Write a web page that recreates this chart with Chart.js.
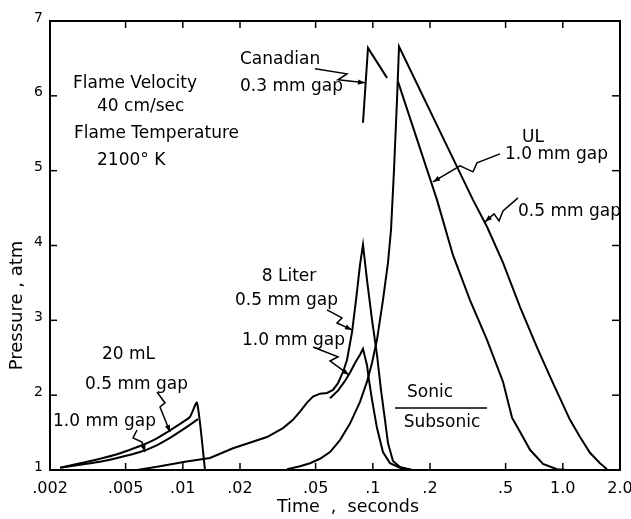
<!DOCTYPE html>
<html>
<head>
<meta charset="utf-8">
<script src="https://cdn.jsdelivr.net/npm/chart.js@4/dist/chart.umd.min.js"></script>
<style>
html,body{margin:0;padding:0;background:#fff;}
#wrap{width:631px;height:519px;}
</style>
</head>
<body>
<div id="wrap"><canvas id="c" width="631" height="519"></canvas></div>
<script>
// ---- tick labels ----
const xTickValues = [0.002, 0.005, 0.01, 0.02, 0.05, 0.1, 0.2, 0.5, 1.0, 2.0];
const xTickLabels = ['.002', '.005', '.01', '.02', '.05', '.1', '.2', '.5', '1.0', '2.0'];
const yTickValues = [1, 2, 3, 4, 5, 6, 7];

// ---- series (time in seconds, pressure in atm) ----
const ml20Gap05Time = [0.00226, 0.00288, 0.00367, 0.00451, 0.00595, 0.00714, 0.00856, 0.01027, 0.01091, 0.01188, 0.01309];
const ml20Gap05Pressure = [1.03, 1.09, 1.15, 1.21, 1.32, 1.41, 1.53, 1.66, 1.71, 1.90, 1.00];

const ml20Gap10Time = [0.00226, 0.00288, 0.00367, 0.00451, 0.00595, 0.00714, 0.00856, 0.01027, 0.01202];
const ml20Gap10Pressure = [1.03, 1.07, 1.11, 1.16, 1.24, 1.32, 1.43, 1.56, 1.68];

const liter8Gap05Time = [0.00574, 0.00759, 0.01027, 0.0139, 0.01838, 0.02774, 0.03368, 0.03801, 0.04139, 0.04505, 0.04845, 0.05273, 0.05741, 0.06173, 0.06558, 0.06968, 0.07314, 0.07771, 0.08158, 0.08563, 0.08879, 0.0932, 0.09902, 0.1052, 0.1104, 0.1159, 0.1202, 0.1277, 0.139, 0.1608];
const liter8Gap05Pressure = [1.00, 1.05, 1.11, 1.16, 1.29, 1.44, 1.56, 1.67, 1.78, 1.90, 1.98, 2.02, 2.03, 2.07, 2.16, 2.31, 2.47, 2.84, 3.27, 3.74, 4.01, 3.54, 3.01, 2.54, 2.07, 1.67, 1.36, 1.12, 1.04, 1.00];

const liter8Gap10Time = [0.05953, 0.06558, 0.07138, 0.07585, 0.08059, 0.08563, 0.08879, 0.0932, 0.09549, 0.09902, 0.1052, 0.1131, 0.1232, 0.139, 0.1608];
const liter8Gap10Pressure = [1.96, 2.06, 2.19, 2.30, 2.43, 2.54, 2.62, 2.40, 2.20, 1.94, 1.56, 1.24, 1.09, 1.03, 1.00];

const canadianTime = [0.08879, 0.09434, 0.1188];
const canadianPressure = [5.64, 6.64, 6.24];

const ulGap05Time = [0.03536, 0.04139, 0.04672, 0.05273, 0.05953, 0.0672, 0.07585, 0.08563, 0.0932, 0.09902, 0.1052, 0.1131, 0.1202, 0.1247, 0.1293, 0.1341, 0.1374, 0.3367, 0.3991, 0.4844, 0.5952, 0.7315, 0.8879, 1.091, 1.232, 1.390, 1.570, 1.709];
const ulGap05Pressure = [1.01, 1.05, 1.09, 1.15, 1.24, 1.40, 1.62, 1.91, 2.18, 2.43, 2.74, 3.27, 3.77, 4.21, 5.01, 5.95, 6.66, 4.61, 4.25, 3.77, 3.18, 2.64, 2.16, 1.67, 1.44, 1.23, 1.09, 1.01];

const ulGap10Time = [0.1357, 0.2177, 0.2643, 0.3247, 0.3991, 0.4844, 0.5404, 0.5952, 0.672, 0.7866, 0.932, 1.052];
const ulGap10Pressure = [6.19, 4.61, 3.87, 3.27, 2.74, 2.18, 1.70, 1.51, 1.27, 1.08, 1.01, 1.00];

// ---- annotations (data coordinates) ----
const notes = [
  {text: 'Flame Velocity', t: 0.002643, p: 6.16, align: 'left'},
  {text: '40 cm/sec', t: 0.003535, p: 5.853, align: 'left'},
  {text: 'Flame Temperature', t: 0.002675, p: 5.492, align: 'left'},
  {text: '2100° K', t: 0.003535, p: 5.131, align: 'left'},
  {text: 'Canadian', t: 0.02, p: 6.481, align: 'left'},
  {text: '0.3 mm gap', t: 0.02, p: 6.12, align: 'left'},
  {text: 'UL', t: 0.6969, p: 5.439, align: 'center'},
  {text: '1.0 mm gap', t: 0.4963, p: 5.211, align: 'left'},
  {text: '0.5 mm gap', t: 0.581, p: 4.449, align: 'left'},
  {text: '8 Liter', t: 0.03622, p: 3.58, align: 'center'},
  {text: '0.5 mm gap', t: 0.01883, p: 3.259, align: 'left'},
  {text: '1.0 mm gap', t: 0.02049, p: 2.725, align: 'left'},
  {text: '20 mL', t: 0.003756, p: 2.537, align: 'left'},
  {text: '0.5 mm gap', t: 0.003056, p: 2.136, align: 'left'},
  {text: '1.0 mm gap', t: 0.002074, p: 1.642, align: 'left'},
  {text: 'Sonic', t: 0.2, p: 2.029, align: 'center'},
  {text: 'Subsonic', t: 0.2313, p: 1.628, align: 'center'}
];
const sonicRule = {t0: 0.1309, t1: 0.3991, p: 1.829};
const leaders = [
  [[0.04964, 6.361], [0.07314, 6.294], [0.06558, 6.214], [0.09098, 6.174]],
  [[0.4672, 5.225], [0.3535, 5.104], [0.3367, 4.984], [0.2878, 5.064], [0.2074, 4.85]],
  [[0.581, 4.636], [0.4844, 4.463], [0.4617, 4.329], [0.4345, 4.422], [0.3896, 4.316]],
  [[0.05741, 3.139], [0.06884, 3.032], [0.0648, 2.965], [0.07771, 2.872]],
  [[0.04845, 2.644], [0.06558, 2.511], [0.05953, 2.457], [0.07494, 2.27]],
  [[0.007316, 2.043], [0.008059, 1.896], [0.007585, 1.842], [0.008563, 1.508]],
  [[0.005741, 1.535], [0.005469, 1.428], [0.006099, 1.374], [0.006325, 1.241]]
];

function pts(ts, ps) { return ts.map((t, i) => ({x: t, y: ps[i]})); }
function series(ts, ps, tension) {
  return {data: pts(ts, ps), showLine: true, borderColor: '#000', backgroundColor: '#000',
          borderWidth: 2, pointRadius: 0, fill: false, tension: tension || 0};
}

const FONT = '"DejaVu Sans", sans-serif';

const deco = {
  id: 'deco',
  afterDraw(chart) {
    const {ctx, chartArea: a, scales: {x, y}} = chart;
    const X = v => x.getPixelForValue(v), Y = v => y.getPixelForValue(v);
    const seg = (x0, y0, x1, y1) => { ctx.beginPath(); ctx.moveTo(x0, y0); ctx.lineTo(x1, y1); ctx.stroke(); };
    ctx.save();
    ctx.strokeStyle = '#000'; ctx.fillStyle = '#000';
    // frame
    ctx.lineWidth = 2;
    ctx.strokeRect(a.left, a.top, a.right - a.left, a.bottom - a.top);
    // inward ticks
    ctx.lineWidth = 1.5;
    xTickValues.forEach(v => {
      const px = X(v);
      if (px <= a.left + 1 || px >= a.right - 1) return;
      seg(px, a.bottom, px, a.bottom - 7);
      seg(px, a.top, px, a.top + 7);
    });
    yTickValues.forEach(v => {
      const py = Y(v);
      if (py >= a.bottom - 1 || py <= a.top + 1) return;
      seg(a.left, py, a.left + 7, py);
      seg(a.right, py, a.right - 8, py);
    });
    // notes
    ctx.font = '17px ' + FONT;
    ctx.textBaseline = 'middle';
    notes.forEach(n => {
      ctx.textAlign = n.align;
      ctx.fillText(n.text, X(n.t), Y(n.p));
    });
    // sonic / subsonic rule
    ctx.lineWidth = 1.5;
    seg(X(sonicRule.t0), Y(sonicRule.p), X(sonicRule.t1), Y(sonicRule.p));
    // leaders
    ctx.lineWidth = 1.5;
    leaders.forEach(L => {
      ctx.beginPath();
      L.forEach((q, i) => { const px = X(q[0]), py = Y(q[1]); if (i) ctx.lineTo(px, py); else ctx.moveTo(px, py); });
      ctx.stroke();
      const a1 = L[L.length - 1], a0 = L[L.length - 2];
      const tx = X(a1[0]), ty = Y(a1[1]), fx = X(a0[0]), fy = Y(a0[1]);
      const ang = Math.atan2(ty - fy, tx - fx);
      const len = 7, hw = 2.6;
      ctx.beginPath();
      ctx.moveTo(tx, ty);
      ctx.lineTo(tx - len * Math.cos(ang) + hw * Math.sin(ang), ty - len * Math.sin(ang) - hw * Math.cos(ang));
      ctx.lineTo(tx - len * Math.cos(ang) - hw * Math.sin(ang), ty - len * Math.sin(ang) + hw * Math.cos(ang));
      ctx.closePath();
      ctx.fill();
    });
    // axis titles
    ctx.font = '17.5px ' + FONT;
    ctx.textAlign = 'center';
    ctx.fillText('Time  ,  seconds', (a.left + a.right) / 2 + 13, a.bottom + 37);
    ctx.save();
    ctx.translate(a.left - 33, (a.top + a.bottom) / 2 + 60);
    ctx.rotate(-Math.PI / 2);
    ctx.font = '18px ' + FONT;
    ctx.fillText('Pressure , atm', 0, 0);
    ctx.restore();
    ctx.restore();
  }
};

new Chart(document.getElementById('c'), {
  type: 'scatter',
  data: {
    datasets: [
      series(ml20Gap05Time, ml20Gap05Pressure, 0.2),
      series(ml20Gap10Time, ml20Gap10Pressure, 0.2),
      series(liter8Gap05Time, liter8Gap05Pressure, 0),
      series(liter8Gap10Time, liter8Gap10Pressure, 0),
      series(canadianTime, canadianPressure, 0),
      series(ulGap05Time, ulGap05Pressure, 0),
      series(ulGap10Time, ulGap10Pressure, 0)
    ]
  },
  options: {
    responsive: false,
    animation: false,
    devicePixelRatio: 1,
    layout: {padding: {top: 21, right: 11, left: 0, bottom: 0}},
    plugins: {legend: {display: false}, tooltip: {enabled: false}},
    scales: {
      x: {
        type: 'logarithmic', min: 0.002, max: 2.0,
        afterBuildTicks: s => { s.ticks = xTickValues.map(v => ({value: v})); },
        afterFit: s => { s.height = 49; s.paddingLeft = 0; s.paddingRight = 0; },
        grid: {display: false, drawTicks: false},
        border: {display: false},
        ticks: {
          autoSkip: false, maxRotation: 0, minRotation: 0, padding: 9, color: '#000',
          font: {family: FONT, size: 16},
          callback: (v, i) => xTickLabels[i]
        }
      },
      y: {
        type: 'linear', min: 1, max: 7,
        afterBuildTicks: s => { s.ticks = yTickValues.map(v => ({value: v})); },
        afterFit: s => { s.width = 50; s.paddingTop = 0; s.paddingBottom = 0; },
        grid: {display: false, drawTicks: false},
        border: {display: false},
        ticks: {
          padding: 7, color: '#000', labelOffset: -3,
          font: {family: FONT, size: 14},
          callback: v => String(v)
        }
      }
    }
  },
  plugins: [deco]
});
</script>
</body>
</html>
